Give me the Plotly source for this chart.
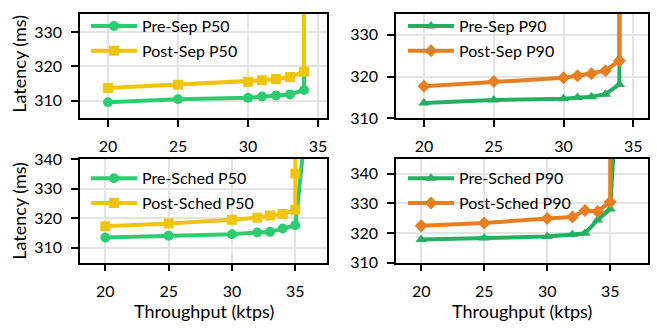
import plotly.graph_objects as go

# ---- data ----
tl_pre_x = [20, 25, 30, 31, 32, 33, 34, 34]
tl_pre_y = [309.5, 310.4, 310.8, 311.2, 311.5, 311.8, 313.1, 400]
tl_post_x = [20, 25, 30, 31, 32, 33, 34, 34]
tl_post_y = [313.7, 314.6, 315.5, 315.9, 316.3, 316.9, 318.4, 400]

tr_pre_x = [20, 25, 30, 31, 32, 33, 34, 34]
tr_pre_y = [313.7, 314.4, 314.7, 315.0, 315.2, 315.8, 318.1, 400]
tr_post_x = [20, 25, 30, 31, 32, 33, 34, 34]
tr_post_y = [317.7, 318.8, 319.7, 320.2, 320.7, 321.4, 323.8, 400]

bl_pre_x = [20, 25, 30, 32, 33, 34, 35, 35.7]
bl_pre_y = [313.5, 314.1, 314.6, 315.2, 315.4, 316.5, 317.6, 346]
bl_post_x = [20, 25, 30, 32, 33, 34, 35, 35, 35]
bl_post_y = [317.3, 318.2, 319.5, 320.2, 320.9, 321.4, 322.9, 335.1, 400]

br_pre_x = [20, 25, 30, 32, 33, 34, 35, 35.3]
br_pre_y = [317.8, 318.3, 318.8, 319.5, 319.9, 324.4, 328.1, 350]
br_post_x = [20, 25, 30, 32, 33, 34, 35, 35]
br_post_y = [322.5, 323.4, 324.9, 325.4, 327.6, 327.3, 330.5, 400]

names = ["Pre-Sep P50", "Post-Sep P50", "Pre-Sep P90", "Post-Sep P90",
         "Pre-Sched P50", "Post-Sched P50", "Pre-Sched P90", "Post-Sched P90"]

xticks = [20, 25, 30, 35]

GREEN1 = "#2ecc71"
YELLOW = "#f1c40f"
GREEN2 = "#27ae60"
ORANGE = "#e67e22"
FONT = "Lato"

fig = go.Figure()

panels = [
    ("x", "y", "legend", (tl_pre_x, tl_pre_y), (tl_post_x, tl_post_y), GREEN1, YELLOW, "circle", "square", names[0], names[1]),
    ("x2", "y2", "legend2", (tr_pre_x, tr_pre_y), (tr_post_x, tr_post_y), GREEN2, ORANGE, "triangle-up", "diamond", names[2], names[3]),
    ("x3", "y3", "legend3", (bl_pre_x, bl_pre_y), (bl_post_x, bl_post_y), GREEN1, YELLOW, "circle", "square", names[4], names[5]),
    ("x4", "y4", "legend4", (br_pre_x, br_pre_y), (br_post_x, br_post_y), GREEN2, ORANGE, "triangle-up", "diamond", names[6], names[7]),
]

for xa, ya, lg, pre, post, cpre, cpost, mpre, mpost, npre, npost in panels:
    fig.add_trace(go.Scatter(x=pre[0], y=pre[1], name=npre, mode="lines+markers",
                             xaxis=xa, yaxis=ya, legend=lg, legendgroup=npre,
                             line=dict(color=cpre, width=4),
                             marker=dict(symbol=mpre, size=10, color=cpre)))
    fig.add_trace(go.Scatter(x=post[0], y=post[1], name=npost, mode="lines+markers",
                             xaxis=xa, yaxis=ya, legend=lg, legendgroup=npost,
                             line=dict(color=cpost, width=4),
                             marker=dict(symbol=mpost, size=10, color=cpost)))

W, H = 657, 332
def dx(a, b):
    return [a / W, b / W]
def dy(top, bot):
    return [1 - bot / H, 1 - top / H]

axcommon = dict(showline=True, linecolor="black", linewidth=1.5, mirror=True,
                ticks="outside", ticklen=7, tickwidth=1.5, tickcolor="black",
                showgrid=True, gridcolor="#e3e3e3", gridwidth=1.5, zeroline=False,
                ticklabelstandoff=6,
                tickfont=dict(family=FONT, size=16, color="black"))

xl = dx(80, 327)
xr = dx(396, 648)
yt = dy(4, 115)
yb = dy(158, 268)

layout = dict(
    width=W, height=H, margin=dict(l=0, r=0, t=0, b=0),
    plot_bgcolor="white", paper_bgcolor="white",
    font=dict(family=FONT, size=16, color="black"),
    xaxis=dict(domain=xl, anchor="y", range=[18, 35.64], tickvals=xticks, **axcommon),
    yaxis=dict(domain=yt, anchor="x", range=[304.8, 335.3], tickvals=[310, 320, 330], **axcommon),
    xaxis2=dict(domain=xr, anchor="y2", range=[18, 36.05], tickvals=xticks, **axcommon),
    yaxis2=dict(domain=yt, anchor="x2", range=[310, 335], tickvals=[310, 320, 330], **axcommon),
    xaxis3=dict(domain=xl, anchor="y3", range=[18, 37.5], tickvals=xticks, **axcommon),
    yaxis3=dict(domain=yb, anchor="x3", range=[305, 340], tickvals=[310, 320, 330, 340], **axcommon),
    xaxis4=dict(domain=xr, anchor="y4", range=[18, 38], tickvals=xticks, **axcommon),
    yaxis4=dict(domain=yb, anchor="x4", range=[310, 345], tickvals=[310, 320, 330, 340], **axcommon),
)

def leg(x_px, y_px, iw):
    return dict(x=x_px / W, y=1 - y_px / H, xanchor="left", yanchor="top",
                bgcolor="rgba(0,0,0,0)", borderwidth=0, tracegroupgap=1,
                itemwidth=iw,
                traceorder="grouped", font=dict(family=FONT, size=16, color="black"))

layout["legend"] = leg(86, -1, 46)
layout["legend2"] = leg(403, -1, 46)
layout["legend3"] = leg(86, 160.5, 46)
layout["legend4"] = leg(403, 160.5, 46)

fig.update_layout(**layout)

# axis titles
ann = []
for yc in [57, (158 + 268) / 2]:
    ann.append(dict(text="Latency (ms)", x=19 / W, y=1 - yc / H, xref="paper", yref="paper",
                    textangle=-90, showarrow=False, xanchor="center", yanchor="middle",
                    font=dict(family=FONT, size=18)))
for xc in [(80 + 327) / 2, (396 + 648) / 2]:
    ann.append(dict(text="Throughput (ktps)", x=xc / W, y=1 - 319 / H, xref="paper", yref="paper",
                    showarrow=False, xanchor="center", yanchor="middle",
                    font=dict(family=FONT, size=18)))
fig.update_layout(annotations=ann)

fig.write_html("out.html")
